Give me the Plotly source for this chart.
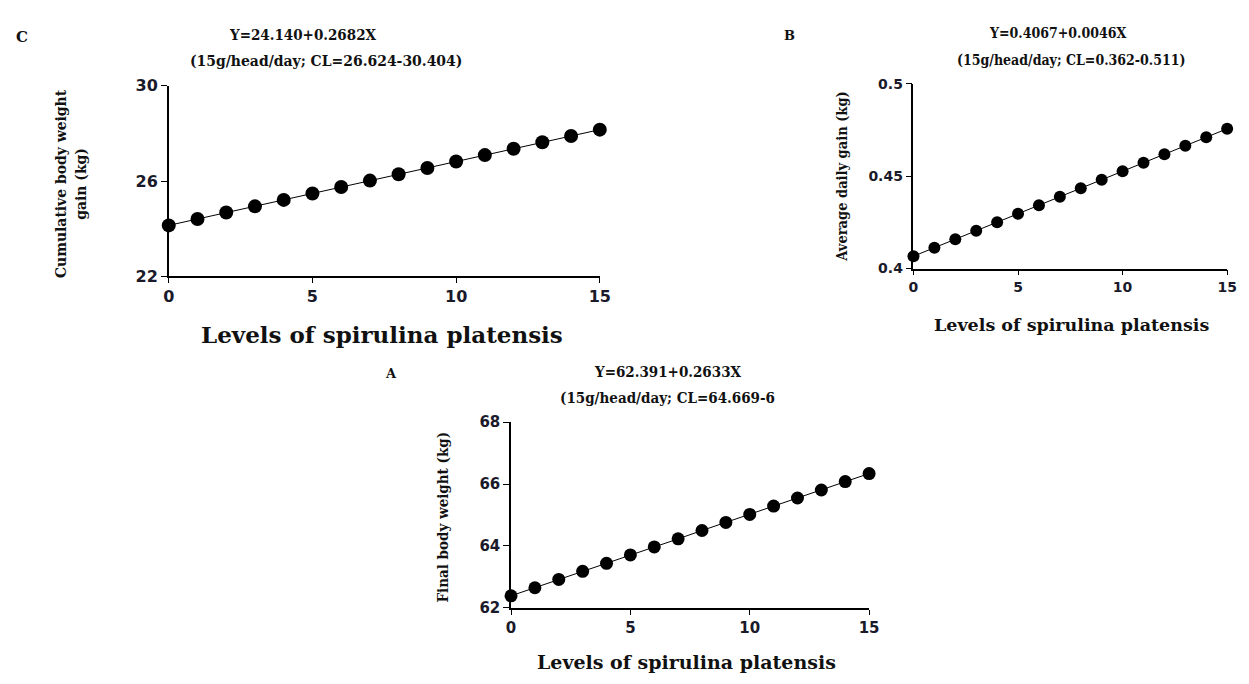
import plotly.graph_objects as go

W, H = 1249, 684

levels = list(range(16))
cum_gain = [24.14, 24.41, 24.68, 24.94, 25.21, 25.48, 25.75, 26.02, 26.29, 26.55, 26.82, 27.09, 27.36, 27.63, 27.89, 28.16]
adg = [0.4067, 0.4113, 0.4159, 0.4205, 0.4251, 0.4297, 0.4343, 0.4389, 0.4435, 0.4481, 0.4527, 0.4573, 0.4619, 0.4665, 0.4711, 0.4757]
final_bw = [62.39, 62.65, 62.92, 63.18, 63.44, 63.71, 63.97, 64.23, 64.50, 64.76, 65.02, 65.29, 65.55, 65.81, 66.08, 66.34]

x_ticks = [0, 5, 10, 15]
c_ticks = [22, 26, 30]
b_ticks = [0.4, 0.45, 0.5]
b_ticklabels = ["0.4", "0.45", "0.5"]
a_ticks = [62, 64, 66, 68]

def px(x):
    return x / W

def py(y):
    return 1 - y / H

fig = go.Figure()

def add_series(xs, ys, xa, ya, msize):
    fig.add_trace(go.Scatter(x=xs, y=ys, xaxis=xa, yaxis=ya, mode="lines+markers",
                             line=dict(color="black", width=1),
                             marker=dict(color="black", size=msize),
                             cliponaxis=False, showlegend=False))

add_series(levels, cum_gain, "x", "y", 14)
add_series(levels, adg, "x2", "y2", 12)
add_series(levels, final_bw, "x3", "y3", 13)

tf_c = dict(family="DejaVu Sans", size=16, color="#1a1a2a", weight="bold")
tf_b = dict(family="DejaVu Sans", size=14, color="#1a1a2a", weight="bold")
tf_a = dict(family="DejaVu Sans", size=15, color="#1a1a2a", weight="bold")

def xaxis(dom, anchor, tf):
    return dict(domain=dom, anchor=anchor, range=[0, 15], tickvals=x_ticks, showline=True,
                linecolor="black", linewidth=1.5, ticks="outside", ticklen=5, tickcolor="black",
                showgrid=False, zeroline=False, tickfont=tf)

def yaxis(dom, anchor, rng, tv, tt, tf):
    return dict(domain=dom, anchor=anchor, range=rng, tickvals=tv, ticktext=tt, showline=True,
                linecolor="black", linewidth=1.5, ticks="outside", ticklen=6, tickcolor="black",
                showgrid=False, zeroline=False, tickfont=tf)

fig.update_layout(
    width=W, height=H, margin=dict(l=0, r=0, t=0, b=0),
    paper_bgcolor="white", plot_bgcolor="white",
    xaxis=xaxis([px(165), px(602)], "y", tf_c),
    yaxis=yaxis([py(275), py(79)], "x", [22, 30], c_ticks, [str(v) for v in c_ticks], tf_c),
    xaxis2=xaxis([px(920), px(1238)], "y2", tf_b),
    yaxis2=yaxis([py(267), py(77)], "x2", [0.4, 0.5], b_ticks, b_ticklabels, tf_b),
    xaxis3=xaxis([px(512), px(875)], "y3", tf_a),
    yaxis3=yaxis([py(616), py(425)], "x3", [62, 68], a_ticks, [str(v) for v in a_ticks], tf_a),
)

serif_c = "DejaVu Serif Condensed"
serif = "DejaVu Serif"

def ann(text, x, y, size, family=serif_c, bold=True, angle=0, xanchor="center"):
    fig.add_annotation(text=text, x=px(x), y=py(y), xref="paper", yref="paper",
                       showarrow=False, textangle=angle, xanchor=xanchor, yanchor="middle",
                       font=dict(family=family, size=size, color="#111111",
                                 weight="bold" if bold else "normal"))

# Panel C
ann("C", 16, 29, 15, family=serif)
ann("Y=24.140+0.2682X", 301, 27, 15)
ann("(15g/head/day; CL=26.624-30.404)", 324, 53, 15.5)
ann("Cumulative body weight<br>gain (kg)", 66, 180, 15.5, angle=-90)
ann("Levels of spirulina platensis", 381, 335, 23, family=serif)

# Panel B
ann("B", 794, 27, 13, family=serif)
ann("Y=0.4067+0.0046X", 1066, 25, 14)
ann("(15g/head/day; CL=0.362-0.511)", 1080, 52, 14)
ann("Average daily gain (kg)", 847, 172, 14.5, angle=-90)
ann("Levels of spirulina platensis", 1080, 325, 17.5, family=serif)

# Panel A
ann("A", 390, 375, 13, family=serif)
ann("Y=62.391+0.2633X", 671, 373, 15)
ann("(15g/head/day; CL=64.669-6", 560, 400, 15, xanchor="left")
ann("Final body weight (kg)", 443, 522, 15, angle=-90)
ann("Levels of spirulina platensis", 690, 672, 19, family=serif)

fig.write_html("out.html")
